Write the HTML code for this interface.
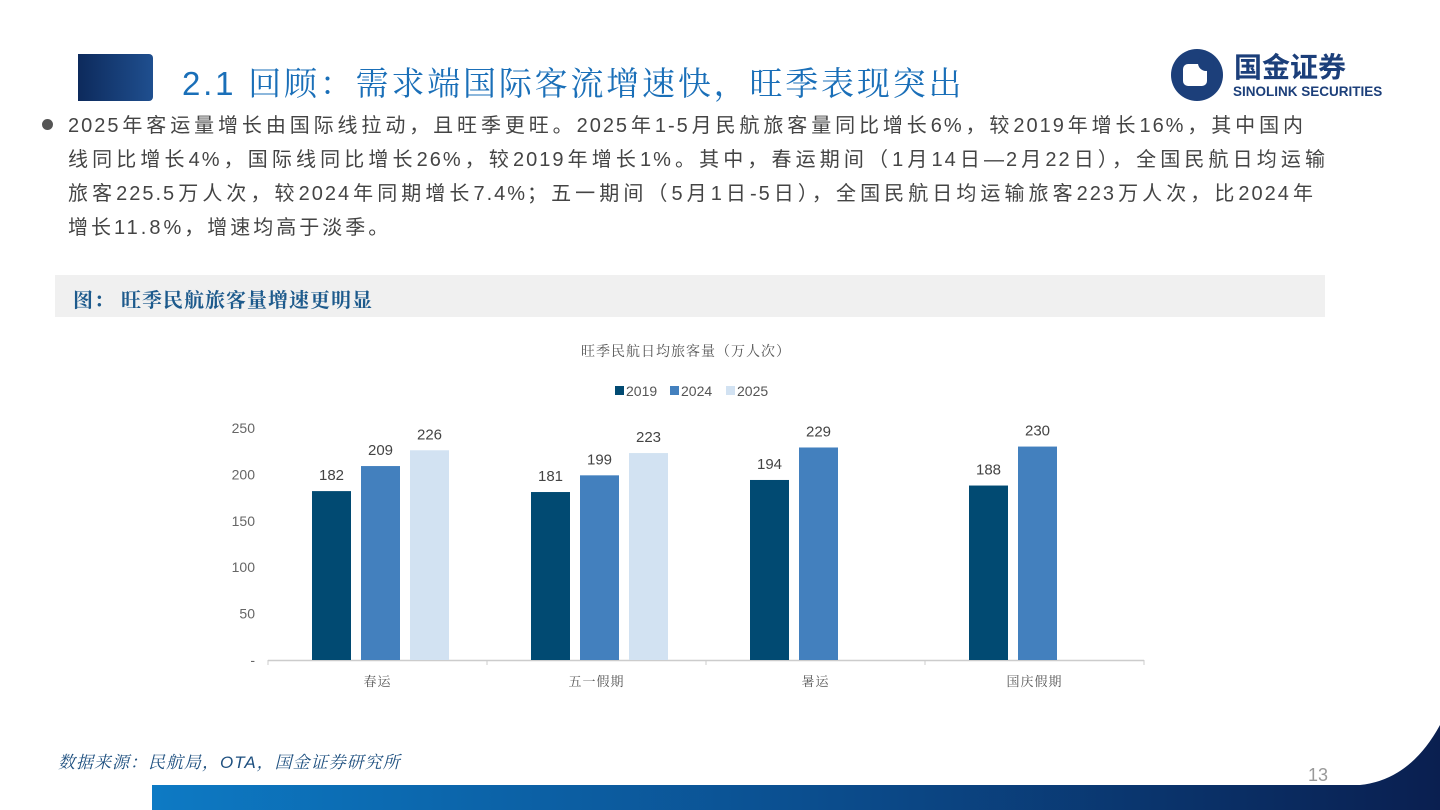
<!DOCTYPE html>
<html><head><meta charset="utf-8"><style>
body{margin:0;width:1440px;height:810px;position:relative;background:#fff;overflow:hidden;font-family:"Liberation Sans","Noto Sans CJK SC",sans-serif}
.abs{position:absolute}
.ln{display:block;white-space:nowrap;text-align:justify;text-align-last:justify;letter-spacing:2px}
</style></head><body>
<div class="abs" style="left:78px;top:54px;width:75px;height:47px;background:linear-gradient(90deg,#0d2a5c,#1f4f8f);border-radius:0 4px 4px 0"></div>
<div class="abs" style="left:182px;top:58px;font-size:33px;color:#1a6fb8;font-family:'Liberation Sans','Noto Serif CJK SC',serif;letter-spacing:2.8px;white-space:nowrap">2.1 回顾：需求端国际客流增速快，旺季表现突出</div>
<div class="abs" style="left:1170px;top:47px;width:240px;height:56px">
 <svg width="56" height="56" style="position:absolute;left:0;top:0"><circle cx="27" cy="28" r="26" fill="#1c3f7a"/><rect x="13" y="17" width="24" height="22" rx="5" fill="#fff"/><circle cx="36" cy="16" r="8" fill="#1c3f7a"/></svg>
 <div style="position:absolute;left:64px;top:0;font-size:28px;font-weight:bold;color:#1c3f7a;font-family:'Noto Sans CJK SC',sans-serif;line-height:38px">国金证券</div>
 <div style="position:absolute;left:63px;top:37px;font-size:13.5px;font-weight:bold;color:#1c3f7a;white-space:nowrap">SINOLINK SECURITIES</div>
</div>
<div class="abs" style="left:42px;top:119px;width:11px;height:11px;border-radius:50%;background:#555"></div>
<div class="abs" style="left:68px;top:109px;font-size:20px;line-height:34px;color:#444">
<span class="ln" style="width:1237px">2025年客运量增长由国际线拉动，且旺季更旺。2025年1-5月民航旅客量同比增长6%，较2019年增长16%，其中国内</span>
<span class="ln" style="width:1259px">线同比增长4%，国际线同比增长26%，较2019年增长1%。其中，春运期间（1月14日—2月22日），全国民航日均运输</span>
<span class="ln" style="width:1247px">旅客225.5万人次，较2024年同期增长7.4%；五一期间（5月1日-5日），全国民航日均运输旅客223万人次，比2024年</span>
<span style="display:block;white-space:nowrap;letter-spacing:3px">增长11.8%，增速均高于淡季。</span>
</div>
<div class="abs" style="left:55px;top:275px;width:1270px;height:42px;background:#f0f0f0"></div>
<div class="abs" style="left:73px;top:284px;font-size:20px;font-weight:bold;color:#1d5a8c;font-family:'Noto Serif CJK SC',serif;letter-spacing:1px">图：&nbsp;旺季民航旅客量增速更明显</div>
<svg class="abs" style="left:0;top:0" width="1440" height="810" id="chart"></svg>
<div class="abs" style="left:58px;top:748px;font-size:17px;font-style:italic;color:#1d4f7f;font-family:'Liberation Sans','Noto Serif CJK SC',serif;letter-spacing:1px">数据来源：民航局，OTA，国金证券研究所</div>
<div class="abs" style="left:1308px;top:765px;font-size:18px;color:#999">13</div>
<svg class="abs" style="left:0;top:720px" width="1440" height="90">
<defs><linearGradient id="fg" x1="0" x2="1"><stop offset="0" stop-color="#0d7ac4"/><stop offset="0.5" stop-color="#0b4f90"/><stop offset="1" stop-color="#0a1f50"/></linearGradient></defs>
<path d="M152 65 L1360 65 Q1410 60 1440 5 L1440 90 L152 90 Z" fill="url(#fg)"/>
</svg>
<script>
const categories=["春运","五一假期","暑运","国庆假期"];
const seriesNames=["2019","2024","2025"];
const s2019=[182,181,194,188];
const s2024=[209,199,229,230];
const s2025=[226,223,null,null];
const yTicks=[0,50,100,150,200,250];
const colors=["#014a72","#4380be","#d2e2f2"];
const NS="http://www.w3.org/2000/svg";
const svg=document.getElementById('chart');
const x0=268,catW=219,baseY=660,pxPer=0.928;
const y=v=>baseY-v*pxPer;
function el(t,a,txt){const e=document.createElementNS(NS,t);for(const k in a)e.setAttribute(k,a[k]);if(txt!=null)e.textContent=txt;svg.appendChild(e);return e;}
let t=el('text',{x:686,y:356,'font-size':14,fill:'#555','text-anchor':'middle','font-family':'Noto Serif CJK SC,serif','letter-spacing':1},'旺季民航日均旅客量（万人次）');


const legX=[615,670,726];
seriesNames.forEach((n,i)=>{
 let r=el('rect',{x:legX[i],y:386,width:9,height:9,fill:colors[i]});
 
 
 let tt=el('text',{x:legX[i]+11,y:396,'font-size':14,fill:'#555'},n);
 
 
});
yTicks.forEach(v=>{
 let tt=el('text',{x:255,y:y(v)+5,'font-size':14,fill:'#666','text-anchor':'end'},v===0?'-':String(v));
 
 
});
let ax=el('line',{x1:x0,y1:baseY+0.5,x2:x0+catW*4,y2:baseY+0.5,stroke:'#ccc','stroke-width':1.5});


for(let i=0;i<=4;i++){let tk=el('line',{x1:x0+catW*i,y1:baseY,x2:x0+catW*i,y2:baseY+5,stroke:'#ccc'});
 
 }
const series=[s2019,s2024,s2025];
categories.forEach((c,ci)=>{
 const gx=x0+catW*ci;
 series.forEach((s,si)=>{
  const v=s[ci]; if(v==null)return;
  const bx=gx+44+si*49;
  let r=el('rect',{x:bx,y:y(v),width:39,height:v*pxPer,fill:colors[si]});
  
  
  let lb=el('text',{x:bx+19.5,y:y(v)-11,'font-size':15,fill:'#444','text-anchor':'middle'},String(v));
  
  
 });
 let cl=el('text',{x:gx+catW/2,y:686,'font-size':13,fill:'#555','text-anchor':'middle','font-family':'Noto Serif CJK SC,serif','letter-spacing':1},c);
 
 
});
</script>
</body></html>
